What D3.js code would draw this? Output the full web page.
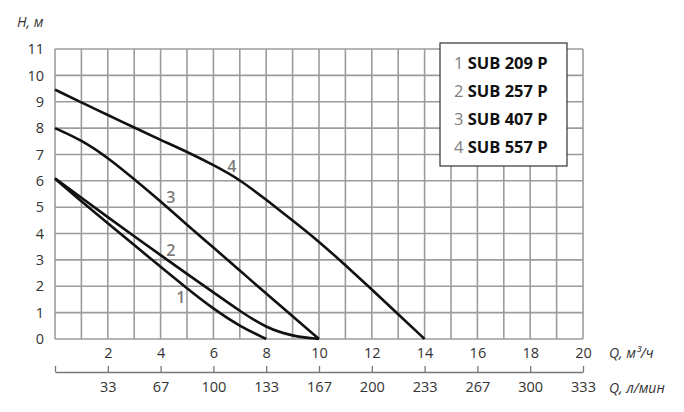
<!DOCTYPE html>
<html><head><meta charset="utf-8">
<script src="https://cdn.jsdelivr.net/npm/d3@7"></script>
<style>
body{margin:0;background:#fff;}
text{font-family:"Open Sans",sans-serif;}
</style></head>
<body><svg id="c" width="684" height="412"></svg>
<script>
// Data
const flowM3h = [0,1,2,3,4,5,6,7,8,9,10,11,12,13,14];
const curve1 = [6.08,5.22,4.39,3.56,2.74,1.92,1.14,0.48,0];
const curve2 = [6.1,5.36,4.62,3.9,3.18,2.47,1.77,1.06,0.42,0.1,0];
const curve3 = [8.0,7.55,6.88,6.06,5.22,4.33,3.47,2.6,1.72,0.86,0];
const curve4 = [9.46,8.97,8.5,8.02,7.55,7.1,6.6,6.05,5.28,4.5,3.7,2.8,1.88,0.94,0];
const seriesNumbers = ["1","2","3","4"];
const seriesNames = ["SUB 209 P","SUB 257 P","SUB 407 P","SUB 557 P"];
const labelQ = [4.77,4.39,4.39,6.7];
const labelH = [1.6,3.38,5.39,6.57];
const xTicks = [2,4,6,8,10,12,14,16,18,20];
const lpmTickPos = [0,2,4,6,8,10,12,14,16,18,20];
const lpmLabels = ["","33","67","100","133","167","200","233","267","300","333"];
const yTicks = [0,1,2,3,4,5,6,7,8,9,10,11];

const svg = d3.select("#c");
const x = d3.scaleLinear().domain([0,20]).range([55,583]);
const y = d3.scaleLinear().domain([0,11]).range([339,49]);

// grid
const grid = svg.append("g").attr("stroke","#9c9c9c").attr("stroke-width",1.6);
d3.range(0,21).forEach(v=>grid.append("line").attr("x1",x(v)).attr("x2",x(v)).attr("y1",y(0)).attr("y2",y(11)));
d3.range(0,12).forEach(v=>grid.append("line").attr("x1",x(0)).attr("x2",x(20)).attr("y1",y(v)).attr("y2",y(v)));

// curves
const line = d3.line().x(d=>x(d[0])).y(d=>y(d[1])).curve(d3.curveBasis);
[curve1,curve2,curve3,curve4].forEach(c=>{
  svg.append("path").datum(c.map((h,i)=>[flowM3h[i],h]))
    .attr("d",line).attr("fill","none").attr("stroke","#111").attr("stroke-width",2.6);
});

// curve labels
seriesNumbers.forEach((n,i)=>{
  svg.append("text").attr("x",x(labelQ[i])).attr("y",y(labelH[i])).attr("dy","0.36em")
    .attr("text-anchor","middle").attr("font-size",16).attr("font-weight",600).attr("fill","#7a7a7a").text(n);
});

// y axis
const ya = svg.append("g").attr("transform",`translate(${x(0)},0)`)
  .call(d3.axisLeft(y).tickValues(yTicks).tickSize(0).tickPadding(11).tickFormat(d3.format("d")));
ya.select(".domain").remove();
ya.selectAll("text").attr("font-size",14.5).attr("fill","#333").attr("font-family","Open Sans");
svg.append("text").attr("x",17).attr("y",27).attr("font-size",14).attr("font-style","italic").attr("fill","#333").text("H, м");

// top x labels
const xa = svg.append("g").attr("transform",`translate(0,${y(0)})`)
  .call(d3.axisBottom(x).tickValues(xTicks).tickSize(0).tickPadding(9).tickFormat(d3.format("d")));
xa.select(".domain").remove();
xa.selectAll("text").attr("font-size",14.5).attr("fill","#333").attr("font-family","Open Sans");
svg.append("text").attr("x",609).attr("y",358).attr("font-size",14).attr("font-style","italic").attr("fill","#333").text("Q, м³/ч");

// lpm axis
const la = svg.append("g").attr("transform","translate(0,372)")
  .call(d3.axisBottom(x).tickValues(lpmTickPos).tickSizeInner(-6).tickSizeOuter(0).tickPadding(10).tickFormat((d,i)=>lpmLabels[i]));
la.select(".domain").attr("stroke","#777").attr("stroke-width",1.3);
la.selectAll("line").attr("stroke","#777").attr("stroke-width",1.3);
la.selectAll("text").attr("font-size",14.5).attr("fill","#333").attr("font-family","Open Sans");
svg.append("text").attr("x",609).attr("y",393).attr("font-size",14).attr("font-style","italic").attr("fill","#333").text("Q, л/мин");

// legend
const lg = svg.append("g");
lg.append("rect").attr("x",440).attr("y",43).attr("width",127).attr("height",123)
  .attr("fill","#fff").attr("stroke","#333").attr("stroke-width",1.2);
seriesNames.forEach((nm,i)=>{
  const t = lg.append("text").attr("x",454).attr("y",63+i*28).attr("dy","0.36em").attr("font-size",16.5);
  t.append("tspan").attr("fill","#808080").text(seriesNumbers[i]+" ");
  t.append("tspan").attr("fill","#111").attr("font-weight",700).text(nm);
});
</script></body></html>
